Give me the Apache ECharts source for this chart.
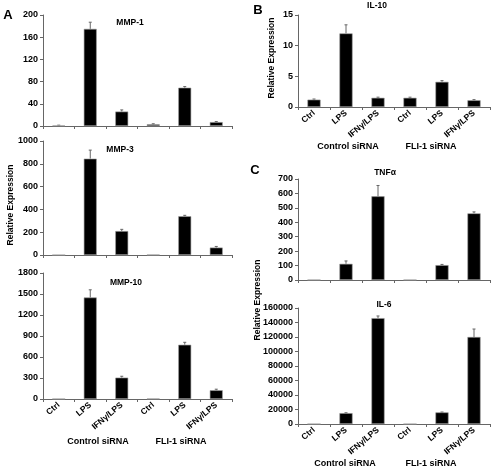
<!DOCTYPE html>
<html><head><meta charset="utf-8">
<script src="https://cdn.jsdelivr.net/npm/echarts@6/dist/echarts.min.js"></script>
<style>html,body{margin:0;padding:0;background:#fff}#c{width:491px;height:470px}</style>
</head><body><div id="c"></div>
<script>
var categories = ['Ctrl','LPS','IFNγ/LPS','Ctrl','LPS','IFNγ/LPS'];
var groupLabels = ['Control siRNA','FLI-1 siRNA'];

var mmp1 = [1, 175, 26, 3, 69, 7];
var mmp1Err = [0.5, 12, 3, 1, 2, 1];
var mmp3 = [0, 845, 210, 2, 340, 65];
var mmp3Err = [0, 75, 15, 0, 8, 10];
var mmp10 = [2, 1450, 305, 5, 775, 125];
var mmp10Err = [0, 110, 20, 0, 35, 15];
var il10 = [1.2, 12, 1.5, 1.5, 4.1, 1.1];
var il10Err = [0.1, 1.4, 0.1, 0.1, 0.2, 0.1];
var tnf = [1, 112, 580, 1, 103, 462];
var tnfErr = [0, 20, 75, 0, 5, 10];
var il6 = [0, 15000, 146000, 0, 16000, 120000];
var il6Err = [0, 500, 3000, 0, 500, 11000];

var F = '"Liberation Sans", Arial, sans-serif';
var panels = [
  {title:'MMP-1', v:mmp1, e:mmp1Err, max:200, iv:40, g:{left:43, top:15, width:189, height:111}, labels:false, tx:130, ty:23},
  {title:'MMP-3', v:mmp3, e:mmp3Err, max:1000, iv:200, g:{left:43, top:141, width:189, height:114}, labels:false, tx:120, ty:150},
  {title:'MMP-10', v:mmp10, e:mmp10Err, max:1800, iv:300, g:{left:43, top:273, width:189, height:126}, labels:true, tx:126, ty:283},
  {title:'IL-10', v:il10, e:il10Err, max:15, iv:5, g:{left:298, top:15, width:192, height:92}, labels:true, tx:377, ty:6},
  {title:'TNFα', v:tnf, e:tnfErr, max:700, iv:100, g:{left:298, top:179, width:192, height:101}, labels:false, tx:385, ty:173},
  {title:'IL-6', v:il6, e:il6Err, max:160000, iv:20000, g:{left:298, top:308, width:192, height:116}, labels:true, tx:384, ty:305}
];

var grids=[], xAxes=[], yAxes=[], series=[], graphics=[];
panels.forEach(function(p, i){
  grids.push(Object.assign({containLabel:false}, p.g));
  xAxes.push({type:'category', gridIndex:i, data:categories,
    axisLine:{lineStyle:{color:'#666', width:1}},
    axisTick:{show:true, length:3, lineStyle:{color:'#666'}},
    axisLabel:{show:p.labels, rotate:40, interval:0, margin:5, color:'#000', fontFamily:F, fontWeight:'bold', fontSize:8.5}
  });
  yAxes.push({type:'value', gridIndex:i, min:0, max:p.max, interval:p.iv,
    splitLine:{show:false},
    axisLine:{show:true, lineStyle:{color:'#666', width:1}},
    axisTick:{show:true, length:3, lineStyle:{color:'#666'}},
    axisLabel:{color:'#000', fontFamily:F, fontWeight:'bold', fontSize:9, margin:5, formatter:function(v){return String(v);}}
  });
  series.push({type:'bar', xAxisIndex:i, yAxisIndex:i, data:p.v, barWidth:'41%',
    itemStyle:{color:'#000', borderColor:'#999', borderWidth:0.6}, silent:true, animation:false});
  series.push({type:'custom', xAxisIndex:i, yAxisIndex:i, animation:false, silent:true,
    data:p.v.map(function(v,k){return [k, v, p.e[k]];}),
    renderItem:function(params, api){
      var k=api.value(0), v=api.value(1), e=api.value(2);
      if(!e) return;
      var b=api.coord([k, v]), t=api.coord([k, v+e]);
      return {type:'group', children:[
        {type:'line', shape:{x1:b[0], y1:b[1], x2:t[0], y2:t[1]}, style:{stroke:'#666', lineWidth:1}},
        {type:'line', shape:{x1:t[0]-1.5, y1:t[1], x2:t[0]+1.5, y2:t[1]}, style:{stroke:'#666', lineWidth:1}}
      ]};
    }
  });
  graphics.push({type:'text', x:p.tx, y:p.ty, style:{text:p.title, font:'bold 8.5px '+F, fill:'#000', textAlign:'center', textVerticalAlign:'middle'}});
});

function txt(s, x, y, size, rot){
  return {type:'text', x:x, y:y, rotation:rot||0, style:{text:s, font:'bold '+size+'px '+F, fill:'#000', textAlign:'center', textVerticalAlign:'middle'}};
}
graphics.push(txt('A', 8, 15, 13));
graphics.push(txt('B', 258, 10, 13));
graphics.push(txt('C', 255, 170, 13));
graphics.push(txt('Relative Expression', 11, 205, 8.5, Math.PI/2));
graphics.push(txt('Relative Expression', 272, 58, 8.5, Math.PI/2));
graphics.push(txt('Relative Expression', 258, 300, 8.5, Math.PI/2));
graphics.push(txt(groupLabels[0], 98, 442, 9));
graphics.push(txt(groupLabels[1], 181, 442, 9));
graphics.push(txt(groupLabels[0], 348, 147, 9));
graphics.push(txt(groupLabels[1], 431, 147, 9));
graphics.push(txt(groupLabels[0], 345, 464, 9));
graphics.push(txt(groupLabels[1], 431, 464, 9));

var chart = echarts.init(document.getElementById('c'), null, {renderer:'canvas'});
chart.setOption({animation:false, backgroundColor:'#fff', grid:grids, xAxis:xAxes, yAxis:yAxes, series:series, graphic:graphics});
</script></body></html>
